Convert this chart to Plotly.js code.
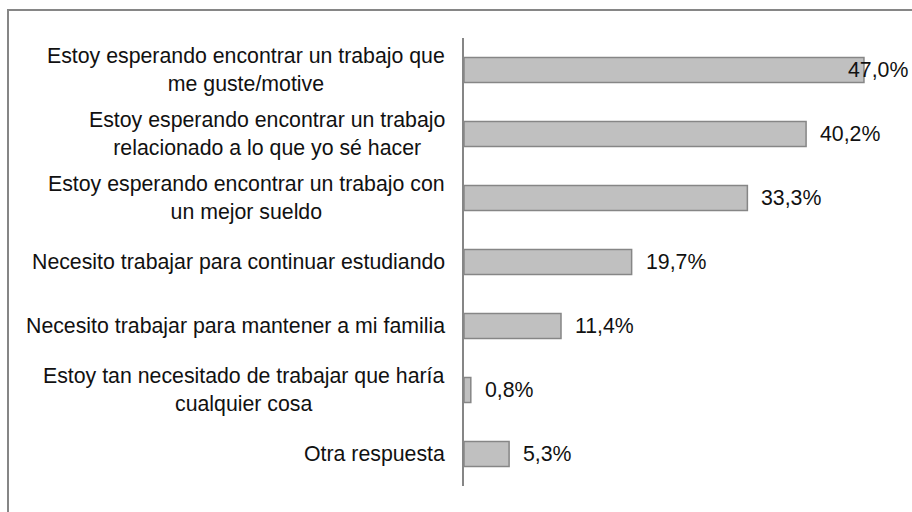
<!DOCTYPE html>
<html>
<head>
<meta charset="utf-8">
<script src="https://cdn.plot.ly/plotly-3.0.1.min.js"></script>
<style>
html,body{margin:0;padding:0;background:#fff;overflow:hidden;}
#wrap{position:relative;width:912px;height:512px;}
#chart{position:absolute;left:0;top:0;width:912px;height:512px;}
#frame{position:absolute;left:7px;top:9px;width:1000px;height:600px;border:2px solid #868686;pointer-events:none;box-sizing:border-box;}
</style>
</head>
<body>
<div id="wrap">
<div id="chart"></div>
<div id="frame"></div>
</div>
<script>
const categories = [
  "Estoy esperando encontrar un trabajo que<br>me guste/motive",
  "Estoy esperando encontrar un trabajo<br>relacionado a lo que yo sé hacer",
  "Estoy esperando encontrar un trabajo con<br>un mejor sueldo",
  "Necesito trabajar para continuar estudiando",
  "Necesito trabajar para mantener a mi familia",
  "Estoy tan necesitado de trabajar que haría<br>cualquier cosa",
  "Otra respuesta"
];
const values = [47.0, 40.2, 33.3, 19.7, 11.4, 0.8, 5.3];
const valueLabels = ["47,0%", "40,2%", "33,3%", "19,7%", "11,4%", "0,8%", "5,3%"];

const FONT = "Liberation Sans, Arial, Helvetica, sans-serif";
const FS = 21.3;
const xMax = 51.94;
const plotW = 442;
const pxPerUnit = plotW / xMax;
const labelW = 64;

const trace = {
  type: "bar",
  orientation: "h",
  y: categories,
  x: values,
  width: 0.39,
  marker: {color: "#c0c0c0", line: {color: "#868686", width: 1.5}},
  hoverinfo: "none"
};

const annotations = [];
categories.forEach(function(c){
  annotations.push({
    xref: "paper", yref: "y", x: 0, y: c,
    xanchor: "right", yanchor: "middle", xshift: -17,
    text: c, showarrow: false, align: "center",
    font: {family: FONT, size: FS, color: "#111"}
  });
});
values.forEach(function(v, i){
  const fits = v * pxPerUnit + 14 + labelW <= plotW + 6;
  annotations.push(fits ? {
    xref: "x", yref: "y", x: v, y: categories[i],
    xanchor: "left", yanchor: "middle", xshift: 12,
    text: valueLabels[i], showarrow: false,
    font: {family: FONT, size: FS, color: "#111"}
  } : {
    xref: "paper", yref: "y", x: 1, y: categories[i],
    xanchor: "right", yanchor: "middle", xshift: 4,
    text: valueLabels[i], showarrow: false,
    font: {family: FONT, size: FS, color: "#111"}
  });
});

const layout = {
  width: 912, height: 512,
  margin: {l: 464, r: 6, t: 38, b: 26, pad: 0},
  paper_bgcolor: "rgba(0,0,0,0)",
  plot_bgcolor: "rgba(0,0,0,0)",
  showlegend: false,
  xaxis: {range: [0, xMax], showgrid: false, zeroline: false, showline: false, showticklabels: false, ticks: "", fixedrange: true},
  yaxis: {type: "category", categoryorder: "array", categoryarray: categories, autorange: "reversed",
          showgrid: false, zeroline: false, showline: true, linecolor: "#868686", linewidth: 2,
          showticklabels: false, ticks: "", fixedrange: true},
  annotations: annotations,
  font: {family: FONT, size: FS, color: "#111"}
};

Plotly.newPlot("chart", [trace], layout, {displayModeBar: false, staticPlot: true});
</script>
</body>
</html>
